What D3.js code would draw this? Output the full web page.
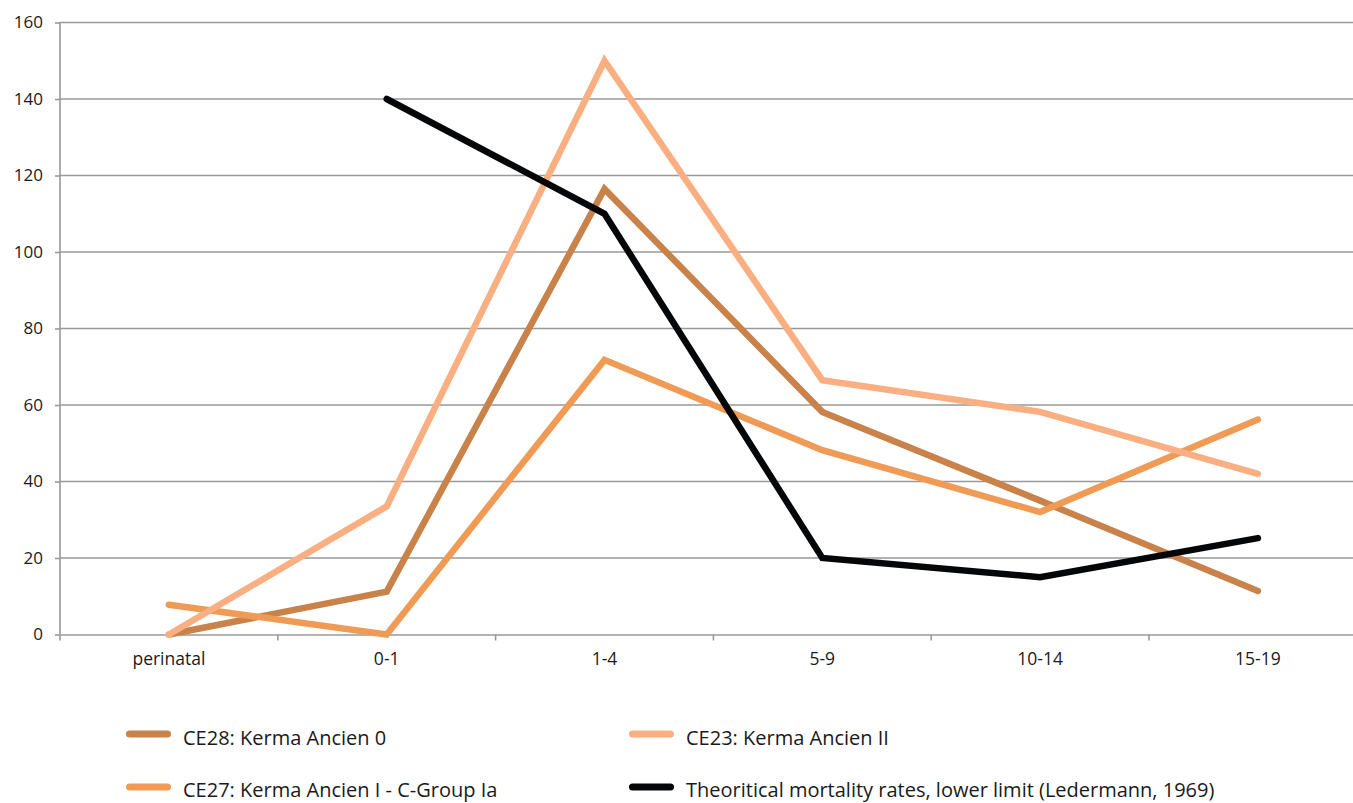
<!DOCTYPE html>
<html><head><meta charset="utf-8">
<script src="https://cdn.jsdelivr.net/npm/d3@7"></script>
<style>body{margin:0;background:#fff}svg{display:block}text{font-family:"Open Sans","Noto Sans",sans-serif;fill:#1a1a1a}</style>
</head><body><svg id="c" width="1353" height="803"></svg>
<script>
const categories = ["perinatal","0-1","1-4","5-9","10-14","15-19"];
const yTicks = [0,20,40,60,80,100,120,140,160];
const ce28 = [0, 11.2, 116.5, 58.2, 35, 11.4];
const ce27 = [7.8, 0, 71.8, 48.2, 32, 56.2];
const ce23 = [0, 33.5, 150, 66.5, 58.2, 42];
const theo = [null, 140, 110, 20, 15, 25.2];
const seriesNames = ["CE28: Kerma Ancien 0","CE27: Kerma Ancien I - C-Group Ia","CE23: Kerma Ancien II","Theoritical mortality rates, lower limit (Ledermann, 1969)"];
const colors = ["#C8824A","#EF9B55","#F9AF82","#050608"];

const svg = d3.select("#c");
const pL = 60, pR = 60 + 6*217.8, pT = 22.5, pB = 634.5;
const x = d3.scaleBand().domain(categories).range([pL, pR]);
const y = d3.scaleLinear().domain([0,160]).range([pB, pT]);

// gridlines
svg.append("g").selectAll("line").data(yTicks.filter(d=>d>0)).join("line")
  .attr("x1", pL).attr("x2", pR).attr("y1", d=>y(d)).attr("y2", d=>y(d))
  .attr("stroke", "#999").attr("stroke-width", 1.6);

// y axis
const ya = svg.append("g").attr("transform", `translate(${pL},0)`)
  .call(d3.axisLeft(y).tickValues(yTicks).tickSize(5).tickPadding(12));
ya.select(".domain").attr("stroke","#999").attr("stroke-width",1.6).attr("d", `M0,${y(160)}V${pB}`);
ya.selectAll(".tick line").attr("stroke","#999").attr("stroke-width",1.6);
ya.selectAll(".tick text").style("font-size","17px").attr("fill","#1a1a1a");

// x axis
const xa = svg.append("g").attr("transform", `translate(0,${pB})`)
  .call(d3.axisBottom(x).tickSize(0).tickPadding(18));
xa.select(".domain").attr("stroke","#999").attr("stroke-width",1.6);
xa.selectAll(".tick text").style("font-size","17.5px").attr("fill","#1a1a1a");
svg.append("g").selectAll("line").data(d3.range(categories.length+1)).join("line")
  .attr("x1", i=>pL+i*x.bandwidth()).attr("x2", i=>pL+i*x.bandwidth())
  .attr("y1", pB).attr("y2", pB+6).attr("stroke","#999").attr("stroke-width",1.6);

const line = d3.line().defined(d=>d.v!==null).x(d=>x(d.c)+x.bandwidth()/2).y(d=>y(d.v));
[ce28, ce27, ce23, theo].forEach((s,i)=>{
  svg.append("path").datum(s.map((v,j)=>({c:categories[j], v})))
    .attr("d", line).attr("fill","none").attr("stroke", colors[i])
    .attr("stroke-width", 6.5).attr("stroke-linejoin","miter").attr("stroke-linecap","round");
});

// legend
const legPos = [[126,734,745],[126,787,797],[629,734,745],[629,787,797]];
seriesNames.forEach((n,i)=>{
  const [lx,ly,tb] = legPos[i];
  svg.append("line").attr("x1",lx+3.5).attr("x2",lx+41.5).attr("y1",ly).attr("y2",ly)
    .attr("stroke",colors[i]).attr("stroke-width",7).attr("stroke-linecap","round");
  svg.append("text").attr("x", lx+57).attr("y", tb).style("font-size","20px").text(n);
});
</script></body></html>
